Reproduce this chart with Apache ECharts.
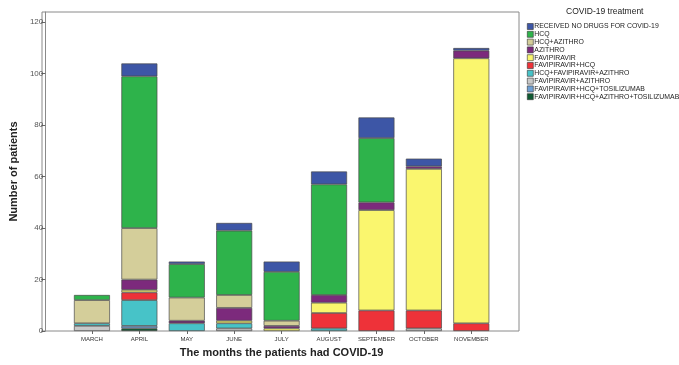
<!DOCTYPE html>
<html>
<head>
<meta charset="utf-8">
<script src="https://cdn.jsdelivr.net/npm/echarts@6/dist/echarts.min.js"></script>
<style>html,body{margin:0;padding:0;background:#fff}#c{width:679px;height:365px}</style>
</head>
<body>
<div id="c"></div>
<script>
const months = ['MARCH','APRIL','MAY','JUNE','JULY','AUGUST','SEPTEMBER','OCTOBER','NOVEMBER'];
const yTicks = [0,20,40,60,80,100,120];
// values per treatment (stack order bottom -> top is reverse of legend order)
const noDrugs      = [0, 5, 1, 3, 4, 5, 8, 3, 1];
const hcq          = [2, 59, 13, 25, 19, 43, 25, 0, 0];
const hcqAzithro   = [9, 20, 9, 5, 2, 0, 0, 0, 0];
const azithro      = [0, 4, 1, 5, 1, 3, 3, 1, 3];
const favipiravir  = [0, 1, 0, 1, 1, 4, 39, 55, 103];
const favHcq       = [0, 3, 0, 0, 0, 6, 8, 7, 3];
const hcqFavAz     = [1, 10, 3, 2, 0, 1, 0, 0, 0];
const favAz        = [2, 0, 0, 1, 0, 0, 0, 1, 0];
const favHcqTos    = [0, 1, 0, 0, 0, 0, 0, 0, 0];
const favHcqAzTos  = [0, 1, 0, 0, 0, 0, 0, 0, 0];

const legendNames = ['RECEIVED NO DRUGS FOR COVID-19','HCQ','HCQ+AZITHRO','AZITHRO','FAVIPIRAVIR','FAVIPIRAVIR+HCQ','HCQ+FAVIPIRAVIR+AZITHRO','FAVIPIRAVIR+AZITHRO','FAVIPIRAVIR+HCQ+TOSILIZUMAB','FAVIPIRAVIR+HCQ+AZITHRO+TOSILIZUMAB'];
const legendValues = [noDrugs,hcq,hcqAzithro,azithro,favipiravir,favHcq,hcqFavAz,favAz,favHcqTos,favHcqAzTos];
const colors = ['#3D56A6','#2EB34B','#D4CE9A','#7C2A7C','#FAF66E','#EE3239','#47C3C8','#C9C9C9','#6E9FD3','#0F5A32'];

const series = [];
for (let k = legendNames.length - 1; k >= 0; k--) {
  series.push({
    name: legendNames[k], type: 'bar', stack: 'all', barWidth: 36,
    xAxisIndex: 0, yAxisIndex: 0,
    itemStyle: { color: colors[k], borderColor: '#4a4a4a', borderWidth: 0.7 },
    emphasis: { disabled: true },
    data: legendValues[k].map(v => v === 0 ? null : v)
  });
}
const chart = echarts.init(document.getElementById('c'));
chart.setOption({
  animation: false,
  textStyle: { fontFamily: 'Liberation Sans' },
  grid: [
    { left: 65, right: 184, top: 12, bottom: 34 },
    { left: 42, right: 160, top: 12, bottom: 34, show: true, borderColor: '#8a8a8a', borderWidth: 1 }
  ],
  xAxis: [{
    type: 'category', data: months, gridIndex: 0,
    name: 'The months the patients had COVID-19', nameLocation: 'middle', nameGap: 16,
    nameTextStyle: { fontSize: 11, fontWeight: 'bold', color: '#222' },
    axisLine: { show: false },
    axisTick: { show: true, alignWithLabel: true, length: 3, lineStyle: { color: '#666' } },
    axisLabel: { interval: 0, fontSize: 6, color: '#333', margin: 5 },
    splitLine: { show: false }
  }, { type: 'value', gridIndex: 1, show: false }],
  yAxis: [{
    type: 'value', min: 0, max: 124, gridIndex: 0, offset: 23,
    name: 'Number of patients', nameLocation: 'middle', nameGap: 24, nameRotate: 90,
    nameTextStyle: { fontSize: 11, fontWeight: 'bold', color: '#222' },
    axisLine: { show: true, lineStyle: { color: '#8a8a8a' } },
    axisTick: { show: true, length: 4, customValues: yTicks, lineStyle: { color: '#666' } },
    axisLabel: { customValues: yTicks, fontSize: 8, color: '#555', margin: 2 },
    splitLine: { show: false }
  }, { type: 'value', gridIndex: 1, show: false }],
  legend: {
    orient: 'vertical', left: 527, top: 23, padding: 0, itemWidth: 6, itemHeight: 6, itemGap: 0.8,
    icon: 'rect', data: legendNames,
    itemStyle: { borderColor: '#333', borderWidth: 0.6 },
    textStyle: { fontSize: 6.9, color: '#222', padding: [0,0,0,-4], fontFamily: 'Liberation Sans Narrow, Liberation Sans' },
    selectedMode: false
  },
  graphic: [{ type: 'text', left: 566, top: 7, style: { text: 'COVID-19 treatment', fontSize: 8.5, fill: '#222', fontFamily: 'Liberation Sans' } }],
  series: series
});
</script>
</body>
</html>
